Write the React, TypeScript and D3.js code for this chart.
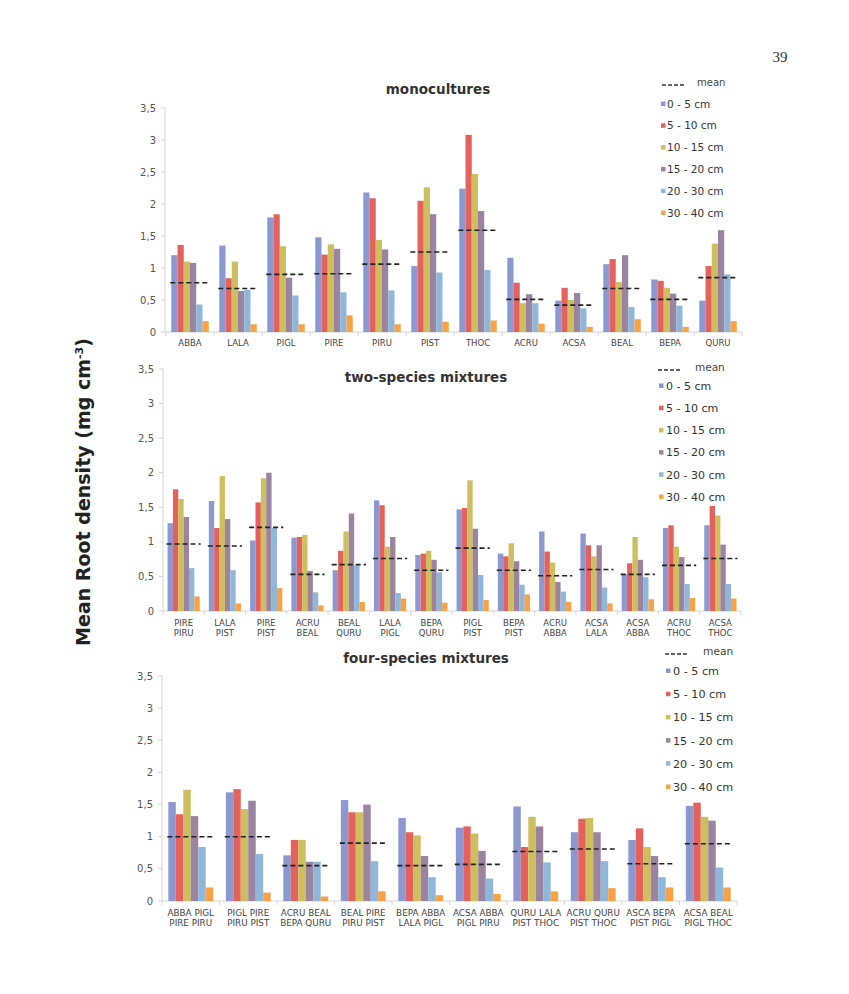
import React from "react";
import * as d3 from "d3";

// ---------- DATA ----------
const DEPTHS = ["0 - 5 cm", "5 - 10 cm", "10 - 15 cm", "15 - 20 cm", "20 - 30 cm", "30 - 40 cm"];
const TICK_VALUES = [0, 0.5, 1, 1.5, 2, 2.5, 3, 3.5];
const TICK_LABELS = ["0", "0,5", "1", "1,5", "2", "2,5", "3", "3,5"];

const MONO_CATS = [["ABBA"], ["LALA"], ["PIGL"], ["PIRE"], ["PIRU"], ["PIST"], ["THOC"], ["ACRU"], ["ACSA"], ["BEAL"], ["BEPA"], ["QURU"]];
const MONO_D0 = [1.2, 1.35, 1.79, 1.48, 2.18, 1.03, 2.24, 1.16, 0.49, 1.06, 0.82, 0.49];
const MONO_D1 = [1.36, 0.84, 1.84, 1.21, 2.09, 2.05, 3.08, 0.77, 0.69, 1.14, 0.8, 1.03];
const MONO_D2 = [1.1, 1.1, 1.34, 1.37, 1.44, 2.26, 2.47, 0.45, 0.5, 0.78, 0.69, 1.38];
const MONO_D3 = [1.08, 0.64, 0.85, 1.3, 1.29, 1.84, 1.89, 0.59, 0.61, 1.2, 0.6, 1.59];
const MONO_D4 = [0.43, 0.66, 0.57, 0.62, 0.65, 0.93, 0.97, 0.45, 0.37, 0.39, 0.41, 0.9];
const MONO_D5 = [0.17, 0.12, 0.12, 0.26, 0.12, 0.16, 0.18, 0.13, 0.08, 0.2, 0.08, 0.17];
const MONO_MEAN = [0.77, 0.68, 0.9, 0.91, 1.06, 1.25, 1.59, 0.51, 0.42, 0.68, 0.51, 0.85];

const TWO_CATS = [
  ["PIRE", "PIRU"], ["LALA", "PIST"], ["PIRE", "PIST"], ["ACRU", "BEAL"], ["BEAL", "QURU"],
  ["LALA", "PIGL"], ["BEPA", "QURU"], ["PIGL", "PIST"], ["BEPA", "PIST"], ["ACRU", "ABBA"],
  ["ACSA", "LALA"], ["ACSA", "ABBA"], ["ACRU", "THOC"], ["ACSA", "THOC"],
];
const TWO_D0 = [1.27, 1.59, 1.02, 1.06, 0.59, 1.6, 0.81, 1.47, 0.83, 1.15, 1.12, 0.53, 1.2, 1.24];
const TWO_D1 = [1.76, 1.2, 1.57, 1.07, 0.87, 1.53, 0.83, 1.49, 0.79, 0.86, 0.95, 0.69, 1.24, 1.52];
const TWO_D2 = [1.62, 1.95, 1.92, 1.1, 1.15, 0.93, 0.87, 1.89, 0.98, 0.7, 0.79, 1.07, 0.93, 1.38];
const TWO_D3 = [1.36, 1.33, 2.0, 0.58, 1.41, 1.07, 0.74, 1.19, 0.72, 0.42, 0.95, 0.74, 0.78, 0.96];
const TWO_D4 = [0.62, 0.59, 1.2, 0.27, 0.66, 0.26, 0.56, 0.52, 0.38, 0.28, 0.34, 0.49, 0.39, 0.39];
const TWO_D5 = [0.21, 0.11, 0.33, 0.08, 0.13, 0.18, 0.12, 0.16, 0.24, 0.13, 0.11, 0.17, 0.19, 0.18];
const TWO_MEAN = [0.97, 0.94, 1.21, 0.53, 0.67, 0.76, 0.59, 0.91, 0.59, 0.51, 0.6, 0.53, 0.66, 0.76];

const FOUR_CATS = [
  ["ABBA PIGL", "PIRE PIRU"], ["PIGL PIRE", "PIRU PIST"], ["ACRU BEAL", "BEPA QURU"], ["BEAL PIRE", "PIRU PIST"],
  ["BEPA ABBA", "LALA PIGL"], ["ACSA ABBA", "PIGL PIRU"], ["QURU LALA", "PIST THOC"], ["ACRU QURU", "PIST THOC"],
  ["ASCA BEPA", "PIST PIGL"], ["ACSA BEAL", "PIGL THOC"],
];
const FOUR_D0 = [1.54, 1.69, 0.71, 1.57, 1.29, 1.14, 1.47, 1.07, 0.95, 1.48];
const FOUR_D1 = [1.35, 1.74, 0.95, 1.38, 1.07, 1.16, 0.84, 1.28, 1.13, 1.53];
const FOUR_D2 = [1.73, 1.43, 0.95, 1.38, 1.02, 1.05, 1.31, 1.29, 0.84, 1.31];
const FOUR_D3 = [1.32, 1.56, 0.61, 1.5, 0.7, 0.78, 1.16, 1.07, 0.7, 1.25];
const FOUR_D4 = [0.84, 0.73, 0.61, 0.62, 0.37, 0.35, 0.6, 0.62, 0.37, 0.52];
const FOUR_D5 = [0.21, 0.13, 0.07, 0.15, 0.09, 0.11, 0.15, 0.2, 0.21, 0.21];
const FOUR_MEAN = [1.0, 1.0, 0.55, 0.9, 0.55, 0.57, 0.77, 0.81, 0.58, 0.89];

// ---------- STYLE / LAYOUT ----------
const COLORS = ["#8c98cf", "#e5625c", "#cdbf5e", "#9a84a0", "#8fb7da", "#f8a145"];
const FONT = "'DejaVu Sans', Verdana, sans-serif";

type Layout = {
  x0: number; x1: number; yBase: number; yTop: number; axisX: number;
  titleX: number; titleY: number; labelY: number; labelGap: number; labelFont: number;
  dashX: number; meanTextX: number; squareX: number; legTextX: number;
  meanY: number; legY0: number; legStep: number; legFont: number;
};

type PanelProps = {
  title: string; cats: string[][]; series: number[][]; mean: number[]; L: Layout;
};

function Panel({ title, cats, series, mean, L }: PanelProps) {
  const x = d3.scaleBand<number>().domain(cats.map((_, i) => i)).range([L.x0, L.x1]).paddingInner(0.22).paddingOuter(0.11);
  const xs = d3.scaleBand<number>().domain(DEPTHS.map((_, i) => i)).range([0, x.bandwidth()]);
  const y = d3.scaleLinear().domain([0, 3.5]).range([L.yBase, L.yTop]);
  const step = x.step();
  const boundaries = d3.range(cats.length + 1).map((i) => L.x0 + i * step);
  return (
    <g fontFamily={FONT}>
      {/* y axis */}
      <line x1={L.axisX} x2={L.axisX} y1={y(0)} y2={y(3.5)} stroke="#d4d4d4" strokeWidth={1} />
      {TICK_VALUES.map((v, i) => (
        <g key={i}>
          <line x1={L.axisX - 4} x2={L.axisX} y1={y(v)} y2={y(v)} stroke="#d4d4d4" />
          <text x={L.axisX - 9} y={y(v)} dy="0.35em" textAnchor="end" fontSize={10} fill="#555">{TICK_LABELS[i]}</text>
        </g>
      ))}
      {/* x axis */}
      <line x1={L.axisX} x2={L.x1} y1={y(0)} y2={y(0)} stroke="#d4d4d4" strokeWidth={1} />
      {boundaries.map((bx, i) => (
        <line key={i} x1={bx} x2={bx} y1={y(0)} y2={y(0) + 4} stroke="#d4d4d4" />
      ))}
      {/* bars */}
      {cats.map((_, ci) => (
        <g key={ci} transform={`translate(${x(ci)},0)`}>
          {series.map((s, si) => (
            <rect key={si} x={xs(si)} width={xs.bandwidth()} y={y(s[ci])} height={y(0) - y(s[ci])} fill={COLORS[si]} />
          ))}
          <line x1={-1} x2={x.bandwidth() + 1} y1={y(mean[ci])} y2={y(mean[ci])} stroke="#222" strokeWidth={1.6} strokeDasharray="5,3" />
        </g>
      ))}
      {/* category labels */}
      {cats.map((lines, ci) => (
        <text key={ci} x={(x(ci) as number) + x.bandwidth() / 2} textAnchor="middle" fontSize={L.labelFont} fill="#444">
          {lines.map((ln, li) => (
            <tspan key={li} x={(x(ci) as number) + x.bandwidth() / 2} y={L.labelY + li * L.labelGap}>{ln}</tspan>
          ))}
        </text>
      ))}
      {/* title */}
      <text x={L.titleX} y={L.titleY} dy="0.35em" textAnchor="middle" fontSize={13.5} fontWeight="bold" fill="#333">{title}</text>
      {/* legend */}
      <line x1={L.dashX} x2={L.dashX + 22} y1={L.meanY} y2={L.meanY} stroke="#333" strokeWidth={1.4} strokeDasharray="4,2" />
      <text x={L.meanTextX} y={L.meanY} dy="0.1em" fontSize={L.legFont - 0.5} fill="#444">mean</text>
      {DEPTHS.map((d, i) => (
        <g key={i}>
          <rect x={L.squareX} y={L.legY0 + i * L.legStep - 2.5} width={4.5} height={4.5} fill={COLORS[i]} />
          <text x={L.legTextX} y={L.legY0 + i * L.legStep} dy="0.35em" fontSize={L.legFont} fill="#333">{d}</text>
        </g>
      ))}
    </g>
  );
}

const L1: Layout = {
  x0: 166, x1: 742, yBase: 332, yTop: 108, axisX: 165,
  titleX: 438, titleY: 89, labelY: 346, labelGap: 10, labelFont: 8.5,
  dashX: 662, meanTextX: 697, squareX: 661, legTextX: 667,
  meanY: 85, legY0: 104, legStep: 21.8, legFont: 10.5,
};
const L2: Layout = {
  x0: 163, x1: 741, yBase: 611, yTop: 369, axisX: 163,
  titleX: 426, titleY: 377, labelY: 626, labelGap: 10, labelFont: 8.5,
  dashX: 658, meanTextX: 695, squareX: 659, legTextX: 666,
  meanY: 370, legY0: 386, legStep: 22.2, legFont: 11,
};
const L3: Layout = {
  x0: 162, x1: 737, yBase: 901, yTop: 676, axisX: 162,
  titleX: 426, titleY: 658, labelY: 916, labelGap: 10, labelFont: 8.8,
  dashX: 665, meanTextX: 703, squareX: 666, legTextX: 673,
  meanY: 654, legY0: 671, legStep: 23.2, legFont: 11.2,
};

export default function App() {
  return (
    <div style={{ position: "absolute", left: 0, top: 0 }}>
      <svg width={849} height={994} viewBox="0 0 849 994" style={{ display: "block", background: "#fff" }}>
        <text x={780} y={57} dy="0.35em" textAnchor="middle" fontSize={15} fontFamily="'Liberation Serif', serif" fill="#333">39</text>
        <Panel title="monocultures" cats={MONO_CATS} series={[MONO_D0, MONO_D1, MONO_D2, MONO_D3, MONO_D4, MONO_D5]} mean={MONO_MEAN} L={L1} />
        <Panel title="two-species mixtures" cats={TWO_CATS} series={[TWO_D0, TWO_D1, TWO_D2, TWO_D3, TWO_D4, TWO_D5]} mean={TWO_MEAN} L={L2} />
        <Panel title="four-species mixtures" cats={FOUR_CATS} series={[FOUR_D0, FOUR_D1, FOUR_D2, FOUR_D3, FOUR_D4, FOUR_D5]} mean={FOUR_MEAN} L={L3} />
        <text transform="translate(90,492) rotate(-90)" textAnchor="middle" fontFamily={FONT} fontWeight="bold" fontSize={19} fill="#222">
          Mean Root density (mg cm<tspan dy="-7" fontSize={11}>-3</tspan><tspan dy="7">)</tspan>
        </text>
      </svg>
    </div>
  );
}
